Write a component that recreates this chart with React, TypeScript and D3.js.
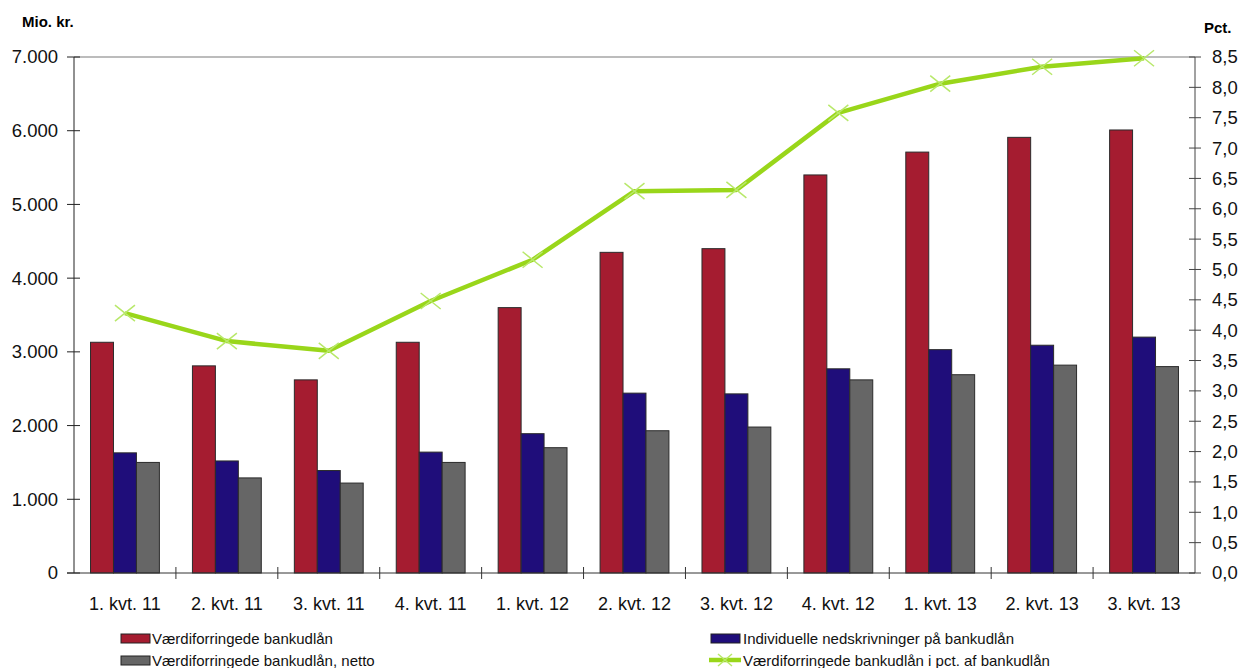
import * as d3 from "d3";

const categories = ["1. kvt. 11", "2. kvt. 11", "3. kvt. 11", "4. kvt. 11", "1. kvt. 12", "2. kvt. 12", "3. kvt. 12", "4. kvt. 12", "1. kvt. 13", "2. kvt. 13", "3. kvt. 13"];
const impaired = [3130, 2810, 2620, 3130, 3600, 4350, 4400, 5400, 5710, 5910, 6010];
const writeDowns = [1630, 1520, 1390, 1640, 1890, 2440, 2430, 2770, 3030, 3090, 3200];
const netImpaired = [1500, 1290, 1220, 1500, 1700, 1930, 1980, 2620, 2690, 2820, 2800];
const pctOfLoans = [4.28, 3.82, 3.66, 4.48, 5.16, 6.29, 6.31, 7.58, 8.06, 8.34, 8.48];
const leftTicks = [0, 1000, 2000, 3000, 4000, 5000, 6000, 7000];
const rightTicks = d3.range(0, 8.51, 0.5);

const W = 1239;
const H = 668;
const left = 74, right = 1195, top = 57, bottom = 573;
const font = "Liberation Sans, Arial, sans-serif";
const colors = { red: "#A51C30", blue: "#1F0D7A", grey: "#666666", green: "#99D61A", marker: "#B8E86A" };

const fmtLeft = (v: number) => d3.format(",")(v).replace(/,/g, ".");
const fmtRight = (v: number) => v.toFixed(1).replace(".", ",");

export default function App() {
  const x = d3.scaleBand<string>().domain(categories).range([left, right]);
  // three bars per quarter, ~23px each with white space either side
  const inner = d3.scaleBand<string>().domain(["a", "b", "c"]).range([0, x.bandwidth()]).paddingOuter(0.72);
  const yL = d3.scaleLinear().domain([0, 7000]).range([bottom, top]);
  const yR = d3.scaleLinear().domain([0, 8.5]).range([bottom, top]);
  const series = [
    { key: "a", vals: impaired, color: colors.red },
    { key: "b", vals: writeDowns, color: colors.blue },
    { key: "c", vals: netImpaired, color: colors.grey },
  ];
  const line = d3.line<number>()
    .x((_, i) => (x(categories[i]) ?? 0) + x.bandwidth() / 2)
    .y(d => yR(d));

  return (
    <svg width={W} height={H} style={{ position: "absolute", left: 0, top: 0, background: "#fff" }} fontFamily={font}>
      <text x={22} y={27} fontSize={15} fontWeight="bold">Mio. kr.</text>
      <text x={1204} y={33} fontSize={15} fontWeight="bold">Pct.</text>

      {/* top grid line */}
      <line x1={left} x2={right} y1={yL(7000)} y2={yL(7000)} stroke="#a6a6a6" strokeWidth={1.5} />

      {series.map(s => s.vals.map((v, i) => (
        <rect key={s.key + i}
          x={(x(categories[i]) ?? 0) + (inner(s.key) ?? 0)}
          y={yL(v)}
          width={inner.bandwidth()}
          height={bottom - yL(v)}
          fill={s.color} stroke="#2b2b2b" strokeWidth={1} />
      )))}

      {/* left axis */}
      <line x1={left} x2={left} y1={top} y2={bottom} stroke="#222" />
      {leftTicks.map(t => (
        <g key={t}>
          <line x1={left - 7} x2={left + 6} y1={yL(t)} y2={yL(t)} stroke="#222" />
          <text x={58} y={yL(t)} dy="0.35em" textAnchor="end" fontSize={18.5} fill="#111">{fmtLeft(t)}</text>
        </g>
      ))}

      {/* right axis */}
      <line x1={right} x2={right} y1={top} y2={bottom} stroke="#444" />
      {rightTicks.map(t => (
        <g key={t}>
          <line x1={right - 6} x2={right + 6} y1={yR(t)} y2={yR(t)} stroke="#444" />
          <text x={1212} y={yR(t)} dy="0.35em" fontSize={18.5} fill="#111">{fmtRight(t)}</text>
        </g>
      ))}

      {/* bottom axis */}
      <line x1={left - 7} x2={right} y1={bottom} y2={bottom} stroke="#333" />
      {categories.map((c, i) => (
        <g key={c}>
          {i > 0 && <line x1={x(c)} x2={x(c)} y1={bottom - 6} y2={bottom + 6} stroke="#333" />}
          <text x={(x(c) ?? 0) + x.bandwidth() / 2} y={610} textAnchor="middle" fontSize={18} fill="#111">{c}</text>
        </g>
      ))}

      <path d={line(pctOfLoans) ?? ""} fill="none" stroke={colors.green} strokeWidth={4.5} strokeLinejoin="round" />
      {pctOfLoans.map((v, i) => {
        const cx = (x(categories[i]) ?? 0) + x.bandwidth() / 2;
        const cy = yR(v);
        return (
          <path key={i} d={`M${cx - 10},${cy - 8}L${cx + 10},${cy + 8}M${cx - 10},${cy + 8}L${cx + 10},${cy - 8}`}
            stroke={colors.marker} strokeWidth={1.5} />
        );
      })}

      {/* legend */}
      <g fontSize={15} fill="#111">
        <rect x={121} y={634} width={29} height={9} fill={colors.red} stroke="#222" />
        <text x={152} y={644}>Værdiforringede bankudlån</text>
        <rect x={121} y={656} width={29} height={9} fill={colors.grey} stroke="#222" />
        <text x={152} y={666}>Værdiforringede bankudlån, netto</text>
        <rect x={711} y={634} width={29} height={9} fill={colors.blue} stroke="#222" />
        <text x={743} y={644}>Individuelle nedskrivninger på bankudlån</text>
        <line x1={709} x2={741} y1={660} y2={660} stroke={colors.green} strokeWidth={4.5} />
        <path d="M718,654L732,666M718,666L732,654" stroke={colors.marker} strokeWidth={1.5} />
        <text x={743} y={666}>Værdiforringede bankudlån i pct. af bankudlån</text>
      </g>
    </svg>
  );
}
